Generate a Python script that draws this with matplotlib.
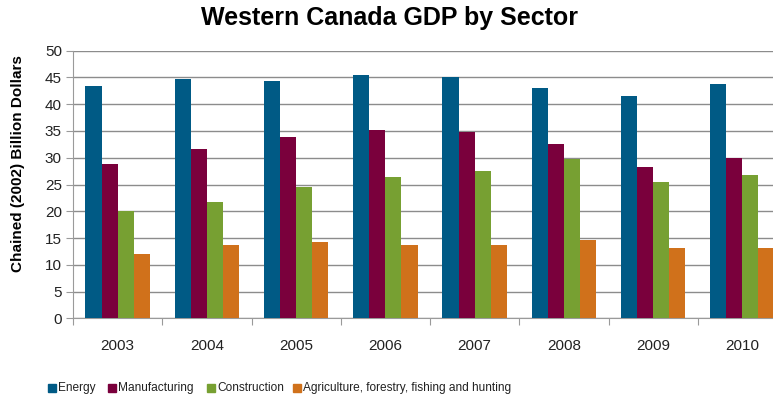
import matplotlib
matplotlib.use("Agg")
import matplotlib.pyplot as plt
from matplotlib.patches import Rectangle
import numpy as np

years = ["2003", "2004", "2005", "2006", "2007", "2008", "2009", "2010"]
energy = [43.4, 44.7, 44.3, 45.4, 45.1, 43.0, 41.5, 43.8]
manufacturing = [28.8, 31.6, 33.9, 35.2, 34.8, 32.6, 28.3, 30.0]
construction = [20.0, 21.7, 24.5, 26.4, 27.5, 29.8, 25.5, 26.8]
agriculture = [12.0, 13.7, 14.3, 13.7, 13.7, 14.6, 13.1, 13.1]
series_names = ["Energy", "Manufacturing", "Construction",
                "Agriculture, forestry, fishing and hunting"]
colors = ["#005A85", "#7A003C", "#77A032", "#D0711B"]

plt.rcParams['font.family'] = ['Liberation Sans', 'DejaVu Sans']

W, H = 773, 398
fig = plt.figure(figsize=(W / 100, H / 100), dpi=100)
ax = fig.add_axes([73/W, (H-318.3)/H, (787-73)/W, (318.3-50.7)/H])

x = np.arange(len(years))
w = 0.18
data = [energy, manufacturing, construction, agriculture]
for i, (vals, c, name) in enumerate(zip(data, colors, series_names)):
    ax.bar(x + (i - 1.5) * w, vals, width=w, color=c, label=name, zorder=3)

ax.set_xlim(-0.5, len(years) - 0.5)
ax.set_ylim(0, 50)
ax.set_yticks(np.arange(0, 51, 5))
ax.yaxis.grid(True, color='#8c8c8c', linewidth=1.0, zorder=0)
ax.set_axisbelow(True)
for s in ['top', 'right']:
    ax.spines[s].set_visible(False)
ax.spines['left'].set_color('#9a9a9a')
ax.spines['bottom'].set_color('#9a9a9a')

ax.set_xticks(np.arange(-0.5, len(years) - 0.4, 1.0))
ax.set_xticklabels([])
ax.set_xticks(x, minor=True)
ax.set_xticklabels(years, minor=True, fontsize=11, color='#222222')
ax.tick_params(axis='x', which='major', length=5, color='#9a9a9a', direction='out')
ax.tick_params(axis='x', which='minor', length=0, pad=15)
ax.tick_params(axis='y', length=5, color='#9a9a9a', labelsize=11, labelcolor='#222222', pad=3)

ax.set_ylabel("Chained (2002) Billion Dollars", fontsize=11, fontweight='bold')
ax.yaxis.set_label_coords(-0.067, 0.58)
fig.text(0.5035, 0.955, "Western Canada GDP by Sector", ha='center', va='center',
         fontsize=18, fontweight='bold')

# legend, laid out like the reference
sq_x = [48, 108, 207, 293]
for sx, c, name in zip(sq_x, colors, series_names):
    fig.patches.append(Rectangle((sx / W, (H - 392) / H), 8 / W, 8 / H,
                                 transform=fig.transFigure, color=c, figure=fig))
    fig.text((sx + 10) / W, (H - 388) / H, name, ha='left', va='center',
             fontsize=8.6, color='#222222')

fig.savefig("out.png", dpi=100)
